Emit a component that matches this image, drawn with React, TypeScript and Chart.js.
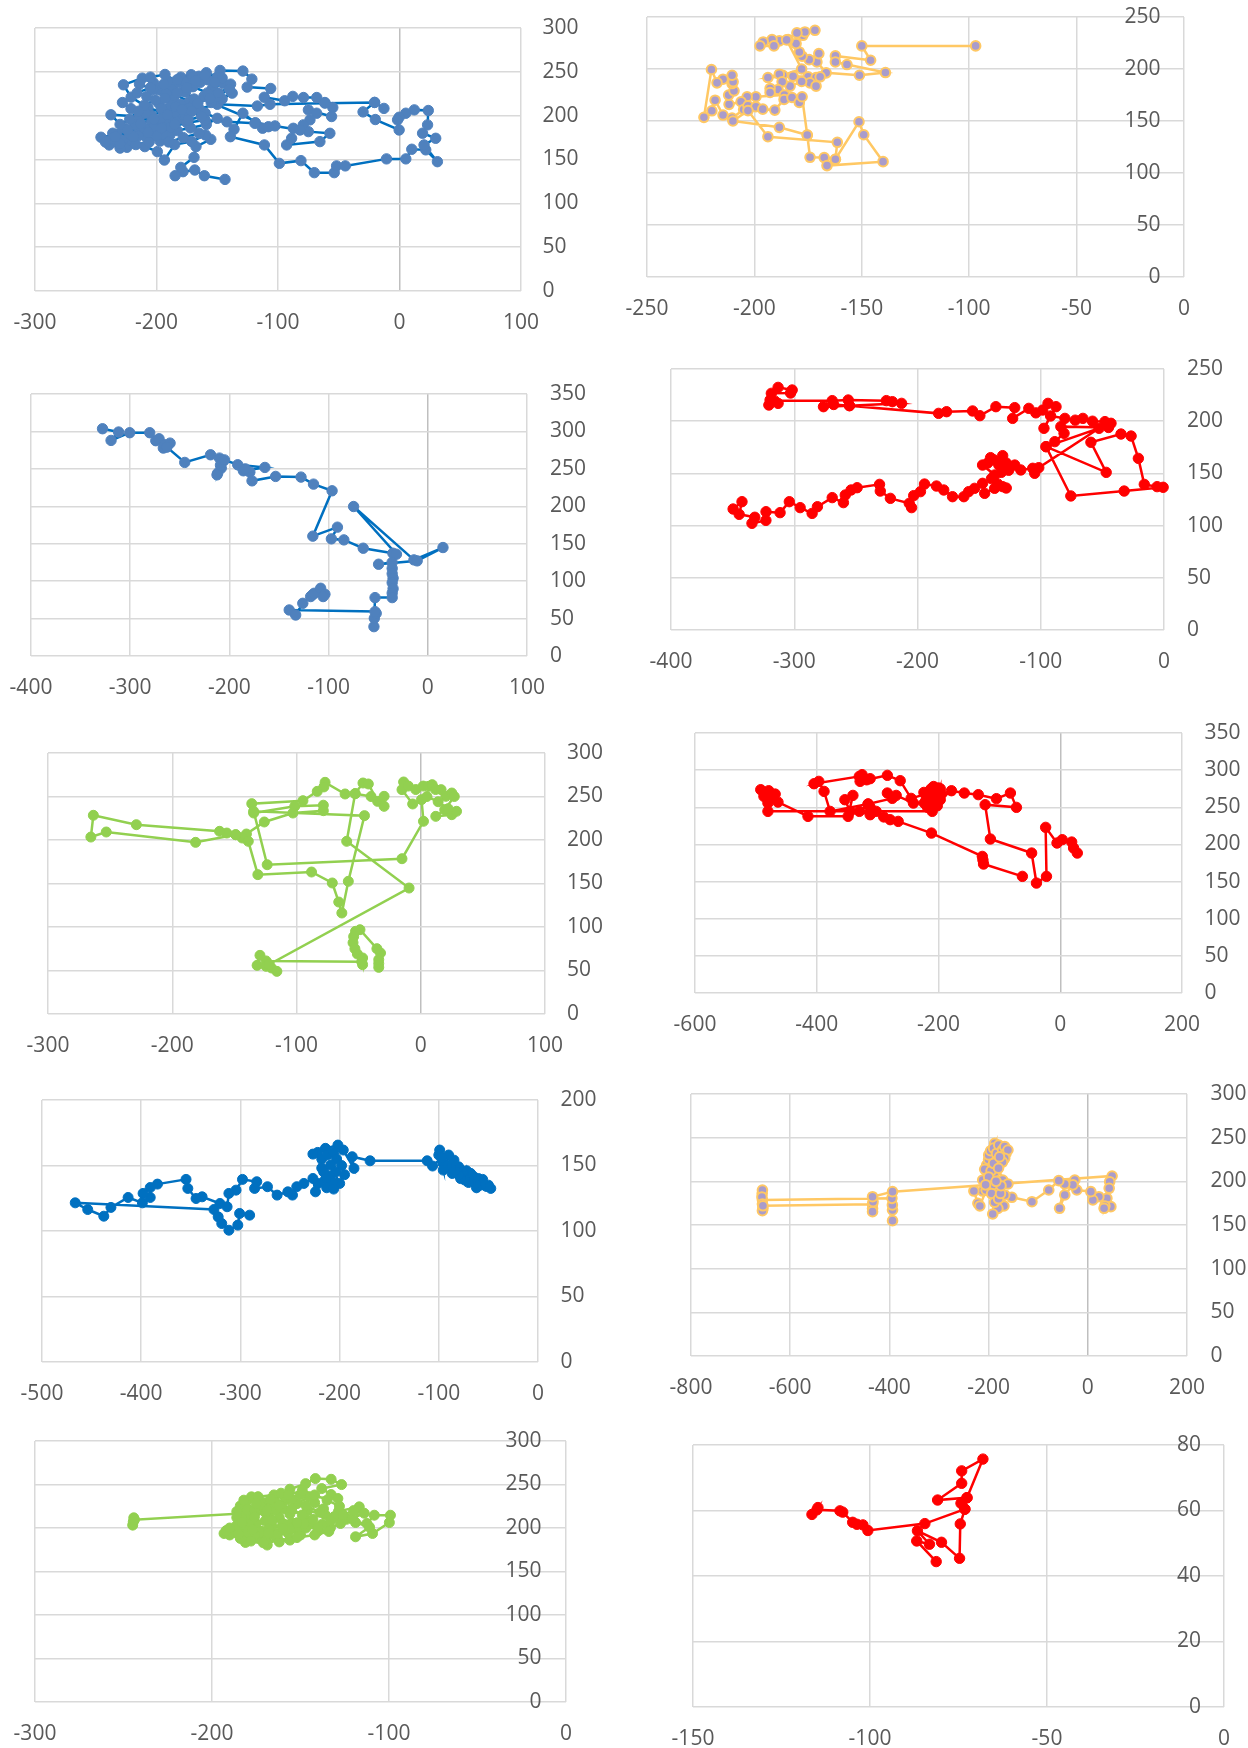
import React, { useEffect, useRef } from 'react';
import { Chart, registerables } from 'chart.js';

Chart.register(...registerables);

type Pt = [number, number];

// ---- data: (x, y) track points ----
const TRACK_1: Pt[] = [
  [-143.6, 127.3], [-160.6, 131.5], [-168.5, 138.0], [-178.2, 136.1], [-184.7, 131.5], [-180.0, 141.0], [-169.1, 152.5],
  [-167.5, 164.7], [-155.3, 173.0], [-159.7, 178.0], [-171.0, 170.5], [-185.0, 167.0], [-193.5, 149.4], [-199.3, 159.0],
  [-209.6, 164.7], [-224.3, 164.0], [-238.9, 166.6], [-245.7, 175.4], [-233.0, 178.5], [-221.0, 172.0], [-209.0, 176.5],
  [-197.0, 171.0], [-189.0, 178.0], [-200.0, 184.5], [-214.0, 182.0], [-227.0, 186.0], [-237.5, 201.0], [-214.0, 199.0],
  [-204.0, 193.0], [-192.0, 189.0], [-182.0, 196.0], [-194.0, 203.0], [-207.0, 209.0], [-220.9, 221.1], [-227.2, 235.2],
  [-211.7, 242.8], [-202.3, 237.1], [-195.0, 228.0], [-187.0, 233.0], [-190.5, 239.0], [-180.0, 244.0], [-171.4, 246.7],
  [-164.0, 238.0], [-176.0, 227.0], [-186.0, 218.0], [-198.0, 214.0], [-208.0, 222.0], [-199.0, 230.0], [-185.0, 224.0],
  [-173.0, 216.0], [-161.0, 222.0], [-154.0, 231.0], [-145.0, 237.0], [-158.0, 241.0], [-147.7, 251.6], [-128.9, 250.9],
  [-121.5, 241.7], [-125.4, 232.6], [-106.0, 231.0], [-111.3, 221.0], [-94.5, 217.0], [-87.8, 222.0], [-79.0, 220.7],
  [-68.1, 220.7], [-61.4, 215.0], [-54.9, 209.3], [-55.9, 199.0], [-75.0, 206.6], [-68.2, 202.8], [-73.7, 195.2],
  [-79.2, 189.5], [-75.0, 181.8], [-57.3, 179.9], [-65.5, 170.4], [-92.9, 166.6], [-88.8, 174.2], [-87.4, 185.6],
  [-81.9, 183.7], [-102.5, 188.3], [-112.7, 185.7], [-118.6, 192.0], [-128.9, 202.8], [-136.2, 184.5], [-139.2, 176.0],
  [-111.2, 166.6], [-98.9, 145.6], [-81.1, 148.7], [-70.1, 135.0], [-53.7, 135.0], [-51.8, 142.7], [-44.6, 142.7],
  [-10.7, 150.7], [5.2, 150.7], [10.1, 161.7], [21.6, 161.0], [31.2, 147.5], [20.2, 166.6], [29.8, 174.2], [19.0, 180.0],
  [23.1, 189.5], [23.7, 205.9], [12.2, 206.6], [5.2, 202.8], [-0.3, 198.2], [-1.6, 195.2], [-0.3, 183.7], [-19.9, 195.6],
  [-30.0, 204.3], [-20.5, 215.1], [-12.8, 208.3], [-20.5, 215.1], [-61.4, 214.3], [-106.6, 213.0], [-117.0, 211.0],
  [-150.0, 213.0], [-165.0, 208.0], [-178.0, 201.0], [-190.0, 196.0], [-203.0, 186.0], [-215.0, 177.0], [-228.0, 172.0],
  [-240.0, 171.0], [-236.0, 180.0], [-222.0, 179.0], [-210.0, 186.0], [-197.0, 196.0], [-185.0, 204.0], [-172.0, 209.0],
  [-160.0, 203.0], [-150.0, 197.0], [-159.0, 190.0], [-172.0, 186.0], [-183.0, 183.0], [-195.0, 179.0], [-206.0, 170.0],
  [-217.0, 167.0], [-230.0, 163.0], [-232.0, 169.0], [-218.0, 190.0], [-204.0, 200.0], [-192.0, 207.0], [-180.0, 213.0],
  [-169.0, 219.0], [-178.0, 228.0], [-192.0, 225.0], [-203.0, 230.0], [-214.0, 236.0], [-205.0, 244.0], [-193.0, 247.0],
  [-182.0, 238.0], [-170.0, 233.0], [-158.0, 226.0], [-146.0, 219.0], [-137.7, 225.7], [-155.0, 215.0], [-107.9, 187.4],
  [-119.0, 191.3], [-142.0, 193.0], [-160.0, 195.0], [-175.0, 192.0], [-188.0, 187.0], [-200.0, 177.0], [-190.0, 170.0],
  [-178.0, 175.0], [-165.0, 180.0], [-176.0, 200.0], [-188.0, 212.0], [-176.0, 238.0], [-165.0, 245.0], [-150.0, 244.0],
  [-139.0, 236.0], [-150.0, 222.0], [-140.0, 230.0], [-146.0, 243.0], [-159.0, 249.0], [-170.0, 244.0], [-183.0, 241.0],
  [-194.0, 236.0], [-205.0, 232.0], [-216.0, 226.0], [-228.0, 215.0], [-221.0, 208.0], [-209.0, 203.0], [-196.0, 208.0],
  [-184.0, 210.0], [-171.0, 205.0], [-163.0, 199.0], [-174.0, 195.0], [-185.0, 190.0], [-196.0, 186.0], [-207.0, 181.0],
  [-219.0, 176.0], [-230.0, 168.0], [-242.0, 170.0], [-234.0, 176.0], [-224.0, 184.0], [-213.0, 191.0], [-202.0, 196.0],
  [-191.0, 201.0], [-179.0, 207.0], [-166.0, 214.0], [-156.0, 220.0], [-149.0, 226.0], [-152.0, 238.0], [-160.0, 246.0],
  [-168.0, 240.0], [-175.0, 232.0], [-183.0, 226.0], [-193.0, 220.0], [-201.0, 218.0], [-210.0, 212.0], [-215.0, 205.0],
  [-222.0, 196.0], [-230.0, 190.0],
];

const TRACK_2: Pt[] = [
  [-97.0, 222.2], [-150.0, 222.2], [-145.9, 208.4], [-162.3, 212.6], [-162.3, 206.8], [-156.9, 204.3], [-139.0, 196.6],
  [-151.1, 194.0], [-166.6, 196.3], [-170.9, 206.8], [-170.0, 214.8], [-174.5, 209.0], [-177.8, 212.3], [-179.1, 216.4],
  [-180.6, 224.4], [-177.4, 232.4], [-176.5, 235.6], [-171.8, 237.2], [-180.2, 234.7], [-184.3, 228.3], [-188.4, 227.0],
  [-191.8, 228.3], [-195.9, 226.0], [-197.4, 222.2], [-190.9, 222.2], [-185.0, 228.0], [-178.0, 200.0], [-186.8, 194.0],
  [-188.4, 195.0], [-193.7, 191.8], [-182.0, 193.0], [-175.0, 192.5], [-171.3, 191.8], [-169.4, 192.5], [-174.1, 186.7],
  [-171.3, 183.5], [-178.0, 188.0], [-183.4, 183.5], [-187.1, 187.7], [-189.0, 180.3], [-192.7, 181.3], [-192.7, 177.4],
  [-186.0, 175.0], [-199.3, 173.3], [-203.4, 173.3], [-206.2, 168.5], [-211.8, 166.0], [-212.0, 174.9], [-209.5, 179.0],
  [-210.4, 186.0], [-209.9, 187.7], [-210.4, 194.0], [-214.6, 190.2], [-217.4, 186.7], [-220.0, 199.5], [-223.5, 153.5],
  [-219.8, 159.8], [-218.3, 170.0], [-214.6, 155.7], [-210.4, 152.8], [-205.0, 161.0], [-203.0, 164.6], [-199.3, 163.7],
  [-196.1, 161.4], [-190.5, 160.5], [-186.2, 170.7], [-182.5, 172.6], [-179.1, 167.8], [-177.8, 173.3], [-175.4, 136.5],
  [-174.1, 115.1], [-167.5, 114.8], [-162.3, 113.2], [-166.2, 107.1], [-140.1, 110.9], [-149.1, 136.8], [-151.3, 149.3],
  [-162.3, 113.2], [-161.4, 129.5], [-193.7, 134.9], [-203.0, 160.0], [-210.0, 150.0], [-188.4, 143.9], [-175.4, 136.5],
];

const TRACK_3: Pt[] = [
  [-327.9, 303.6], [-311.7, 299.2], [-319.3, 288.0], [-300.5, 298.3], [-280.3, 298.3], [-274.2, 287.6], [-270.9, 290.2],
  [-266.6, 277.8], [-265.2, 282.2], [-259.8, 284.4], [-263.0, 279.0], [-245.0, 258.6], [-219.0, 268.8], [-210.0, 264.4],
  [-206.4, 260.0], [-208.2, 251.0], [-211.8, 244.3], [-212.5, 242.0], [-209.0, 255.0], [-205.0, 262.0], [-191.6, 255.5],
  [-164.2, 251.9], [-185.9, 247.4], [-179.4, 245.6], [-184.0, 250.0], [-177.2, 234.0], [-153.4, 239.9], [-127.8, 239.0],
  [-115.2, 229.6], [-96.5, 220.7], [-115.9, 160.1], [-91.1, 172.1], [-97.2, 156.5], [-84.6, 155.1], [-65.1, 144.0],
  [-35.2, 137.3], [-31.6, 136.0], [-74.8, 199.7], [-14.0, 128.4], [15.3, 144.9], [-10.7, 127.1], [-49.6, 122.6],
  [-36.0, 125.0], [-35.9, 117.0], [-35.9, 110.0], [-35.0, 104.0], [-35.9, 98.0], [-35.0, 90.0], [-35.9, 84.0],
  [-35.9, 78.0], [-53.2, 78.0], [-54.3, 39.2], [-53.9, 50.4], [-52.0, 57.0], [-53.2, 59.3], [-139.7, 61.5],
  [-133.2, 54.8], [-126.0, 70.4], [-118.1, 79.4], [-116.0, 82.0], [-114.5, 83.8], [-108.0, 90.5], [-103.7, 82.5],
  [-105.5, 79.4],
];

const TRACK_4: Pt[] = [
  [-319.6, 220.3], [-313.1, 232.4], [-301.7, 229.9], [-303.0, 227.0], [-318.6, 226.7], [-320.6, 215.5], [-313.1, 217.1],
  [-316.0, 219.5], [-269.2, 219.7], [-256.2, 220.3], [-225.3, 219.7], [-220.4, 218.7], [-212.9, 217.1], [-255.2, 214.9],
  [-276.3, 213.9], [-268.0, 216.0], [-255.2, 214.9], [-182.9, 207.5], [-176.4, 209.1], [-155.3, 209.8], [-149.4, 205.3],
  [-136.4, 213.9], [-121.1, 213.0], [-122.8, 202.7], [-109.7, 212.3], [-104.0, 208.0], [-98.4, 210.7], [-94.1, 217.1],
  [-87.6, 213.9], [-97.4, 193.2], [-92.0, 205.0], [-80.4, 202.7], [-72.0, 201.0], [-65.8, 202.7], [-58.0, 200.0],
  [-47.9, 199.6], [-43.0, 198.0], [-45.0, 194.0], [-83.7, 194.8], [-81.1, 188.4], [-88.6, 180.4], [-95.7, 175.6],
  [-46.9, 151.0], [-59.3, 179.8], [-34.9, 187.7], [-26.7, 185.8], [-20.8, 164.4], [-16.0, 139.5], [-5.6, 137.3],
  [-0.7, 136.7], [-32.3, 133.1], [-75.6, 128.4], [-95.7, 175.6], [-52.7, 193.2], [-101.6, 155.5], [-104.9, 150.1],
  [-106.5, 154.9], [-116.2, 153.3], [-121.1, 158.0], [-126.0, 153.0], [-132.0, 151.0], [-128.0, 160.0], [-130.9, 167.0],
  [-134.0, 158.0], [-138.0, 163.0], [-140.7, 165.1], [-143.0, 160.0], [-147.2, 158.0], [-137.4, 148.5], [-140.0, 145.0],
  [-135.0, 140.0], [-128.0, 136.0], [-130.9, 137.3], [-137.4, 135.7], [-145.5, 130.9], [-147.2, 140.5], [-153.7, 135.7],
  [-158.5, 132.5], [-162.4, 127.7], [-171.6, 127.7], [-178.7, 134.1], [-184.6, 137.9], [-194.3, 139.8], [-197.6, 132.5],
  [-203.1, 128.7], [-204.8, 117.2], [-206.7, 121.3], [-222.0, 126.1], [-230.2, 133.1], [-230.8, 139.5], [-249.0, 136.3],
  [-253.9, 134.1], [-258.6, 129.3], [-260.1, 122.0], [-269.2, 126.8], [-281.2, 118.1], [-285.5, 111.7], [-295.2, 117.2],
  [-304.0, 122.9], [-311.5, 112.4], [-322.9, 113.3], [-323.0, 105.0], [-334.3, 102.2], [-332.0, 108.0], [-344.7, 110.8],
  [-342.4, 122.9], [-349.6, 115.9],
];

const TRACK_5: Pt[] = [
  [-33.8, 53.6], [-33.8, 58.0], [-33.8, 62.5], [-32.4, 70.1], [-35.3, 75.1], [-48.9, 96.9], [-52.5, 95.0], [-54.0, 89.0],
  [-54.5, 82.0], [-53.0, 75.0], [-51.0, 69.0], [-46.8, 64.4], [-46.8, 56.7], [-47.5, 60.0], [-124.5, 61.0], [-129.4, 67.4],
  [-131.7, 55.9], [-124.5, 54.8], [-120.1, 52.9], [-115.8, 49.0], [-122.0, 57.0], [-9.4, 144.8], [-59.6, 198.5],
  [-52.8, 253.3], [-46.5, 265.5], [-42.2, 264.4], [-34.7, 244.4], [-29.5, 250.2], [-29.5, 238.7], [-40.0, 250.0],
  [-52.8, 253.3], [-60.9, 252.9], [-77.0, 266.3], [-78.0, 261.0], [-83.3, 255.9], [-94.8, 245.2], [-136.0, 241.8],
  [-134.5, 231.0], [-101.4, 238.7], [-78.4, 240.0], [-78.4, 233.7], [-102.9, 231.0], [-125.9, 220.7], [-140.3, 206.9],
  [-143.7, 202.3], [-148.9, 206.1], [-156.1, 208.0], [-161.9, 210.0], [-228.9, 217.6], [-263.5, 228.4], [-265.5, 203.4],
  [-253.1, 209.2], [-181.2, 197.3], [-148.9, 206.1], [-138.8, 198.5], [-131.1, 160.2], [-87.9, 163.2], [-71.2, 150.6],
  [-66.0, 128.7], [-63.5, 116.1], [-58.3, 152.5], [-45.3, 228.0], [-134.5, 233.0], [-123.6, 171.6], [-15.1, 178.5],
  [2.2, 221.5], [0.6, 246.4], [-6.5, 241.4], [-15.1, 257.9], [-13.8, 266.7], [-10.0, 262.0], [-4.0, 258.0], [2.0, 262.0],
  [6.3, 261.7], [9.2, 263.6], [12.0, 258.0], [16.4, 257.9], [20.2, 250.2], [25.0, 254.0], [27.0, 250.0], [19.3, 234.9],
  [12.1, 227.2], [25.0, 229.1], [28.8, 233.0], [22.0, 236.0], [14.0, 244.0], [5.0, 250.0],
];

const TRACK_6: Pt[] = [
  [-62.2, 157.0], [-126.0, 173.6], [-127.0, 179.0], [-128.0, 183.9], [-211.6, 215.3], [-266.2, 231.0], [-279.4, 233.3],
  [-290.0, 237.0], [-302.4, 244.5], [-312.3, 240.0], [-330.1, 244.5], [-315.6, 254.4], [-312.3, 250.0], [-345.2, 244.5],
  [-353.8, 260.2], [-340.6, 266.0], [-348.5, 237.8], [-414.4, 237.8], [-463.7, 257.0], [-468.3, 267.8], [-478.9, 272.3],
  [-492.0, 273.7], [-486.8, 264.7], [-480.2, 255.7], [-478.0, 262.0], [-480.2, 244.5], [-210.3, 244.5], [-215.0, 255.0],
  [-223.4, 255.7], [-241.2, 255.7], [-269.5, 266.0], [-284.0, 269.2], [-276.0, 262.0], [-315.6, 254.4], [-378.1, 244.5],
  [-388.0, 271.4], [-396.6, 284.9], [-404.5, 281.7], [-330.1, 291.6], [-325.5, 293.9], [-328.8, 284.9], [-312.3, 288.5],
  [-318.0, 287.0], [-284.0, 293.0], [-262.9, 285.8], [-245.0, 262.0], [-220.0, 268.0], [-212.0, 275.0], [-205.0, 270.0],
  [-210.0, 262.0], [-218.0, 250.0], [-213.0, 258.0], [-220.0, 262.0], [-224.0, 270.0], [-215.0, 272.0], [-208.0, 278.0],
  [-200.0, 276.0], [-195.0, 268.0], [-202.0, 252.0], [-205.0, 262.0], [-200.0, 266.0], [-197.1, 275.0], [-197.1, 260.2],
  [-203.0, 257.0], [-178.7, 272.3], [-157.6, 269.2], [-134.6, 267.0], [-104.9, 261.6], [-81.9, 269.2], [-72.0, 249.9],
  [-123.4, 253.5], [-114.8, 207.3], [-47.0, 188.4], [-39.1, 148.0], [-22.6, 157.0], [-24.0, 223.0], [-5.3, 201.9],
  [3.3, 206.4], [18.8, 203.2], [21.9, 195.2], [28.0, 188.4],
];

const TRACK_7: Pt[] = [
  [-47.6, 132.5], [-50.0, 135.0], [-52.0, 134.0], [-55.8, 139.4], [-58.0, 135.0], [-60.0, 140.0], [-62.0, 133.0],
  [-63.0, 136.3], [-64.0, 141.0], [-66.7, 142.7], [-68.0, 144.0], [-70.0, 140.0], [-70.0, 137.0], [-72.0, 146.0],
  [-73.9, 138.9], [-75.0, 144.0], [-76.0, 145.0], [-77.5, 146.5], [-78.0, 140.0], [-80.0, 143.0], [-80.0, 149.0],
  [-84.0, 146.0], [-86.5, 143.9], [-88.0, 148.0], [-84.7, 154.1], [-90.1, 158.0], [-92.0, 150.0], [-96.0, 152.0],
  [-95.5, 146.5], [-100.0, 158.0], [-99.1, 161.8], [-97.0, 156.0], [-106.3, 149.6], [-111.7, 153.6], [-169.3, 153.6],
  [-187.3, 156.7], [-185.5, 147.8], [-196.3, 161.8], [-201.7, 165.6], [-214.3, 163.1], [-222.0, 160.0], [-226.9, 158.7],
  [-218.0, 155.0], [-212.0, 158.0], [-206.0, 160.0], [-203.0, 155.0], [-198.0, 150.0], [-195.0, 143.0], [-204.0, 145.0],
  [-210.0, 142.0], [-218.0, 148.0], [-216.1, 145.2], [-208.9, 150.3], [-199.9, 136.3], [-207.1, 137.6], [-214.3, 139.4],
  [-213.0, 133.0], [-206.0, 132.0], [-221.5, 136.3], [-224.3, 129.9], [-226.9, 140.1], [-236.0, 136.3], [-243.2, 133.8],
  [-247.5, 127.4], [-252.2, 129.9], [-263.0, 127.4], [-272.7, 133.8], [-285.7, 132.5], [-283.5, 137.6], [-297.9, 139.4],
  [-304.4, 131.2], [-311.6, 128.7], [-313.4, 118.5], [-320.6, 121.0], [-338.6, 126.1], [-344.7, 124.8], [-353.0, 132.5],
  [-354.8, 139.4], [-383.6, 135.8], [-390.9, 133.2], [-390.9, 125.6], [-398.1, 128.7], [-398.8, 121.5], [-413.2, 125.6],
  [-430.5, 118.0], [-437.7, 111.3], [-453.9, 116.4], [-466.5, 121.5], [-326.7, 116.4], [-322.4, 110.8], [-318.8, 105.7],
  [-311.6, 100.6], [-302.6, 104.5], [-300.8, 113.4], [-290.7, 112.1],
];

const TRACK_8: Pt[] = [
  [-393.7, 155.0], [-393.7, 167.2], [-394.0, 173.0], [-394.9, 180.5], [-656.0, 178.6], [-656.5, 186.0], [-656.0, 190.0],
  [-657.0, 182.0], [-656.0, 174.0], [-655.0, 169.0], [-656.0, 166.4], [-655.0, 172.0], [-434.0, 173.7], [-434.0, 169.0],
  [-434.0, 165.3], [-433.0, 176.7], [-434.0, 182.4], [-393.7, 188.2], [49.0, 206.1], [44.1, 199.6], [43.1, 192.0],
  [38.5, 180.5], [46.5, 171.0], [34.4, 171.8], [32.8, 169.1], [22.3, 182.4], [10.2, 178.6], [6.1, 188.2], [-22.1, 190.1],
  [-26.2, 201.5], [-30.0, 196.0], [-46.4, 184.4], [-56.9, 169.1], [-46.4, 197.0], [-58.5, 200.8], [-78.7, 190.1],
  [-112.6, 176.7], [-153.0, 181.7], [-167.5, 184.4], [-169.1, 171.8], [-181.3, 169.0], [-191.7, 162.6], [-186.1, 180.5],
  [-183.7, 190.1], [-191.7, 195.8], [-197.4, 205.3], [-203.9, 218.7], [-207.9, 213.7], [-211.9, 201.5], [-211.9, 188.9],
  [-229.7, 188.9], [-221.6, 174.8], [-217.6, 171.8], [-205.0, 190.0], [-194.0, 186.0], [-188.0, 176.0], [-180.0, 180.0],
  [-176.0, 186.0], [-188.0, 210.0], [-195.0, 212.0], [-200.0, 205.0], [-206.0, 196.0], [-200.0, 225.0], [-190.1, 220.6],
  [-199.8, 230.2], [-196.0, 235.0], [-187.7, 243.5], [-190.0, 238.0], [-184.0, 232.0], [-179.6, 241.6], [-172.0, 236.0],
  [-167.5, 239.7], [-165.0, 232.0], [-161.0, 235.9], [-167.5, 226.3], [-172.0, 222.0], [-178.0, 228.0], [-180.0, 215.0],
  [-171.6, 201.5], [-161.0, 197.0], [-175.0, 195.0], [-185.0, 200.0],
];

const TRACK_9: Pt[] = [
  [-244.5, 207.0], [-244.8, 203.3], [-244.2, 211.7], [-243.8, 209.5], [-183.7, 216.7], [-182.0, 210.0], [-176.0, 207.0],
  [-184.0, 225.4], [-177.7, 235.8], [-172.0, 230.0], [-166.7, 226.2], [-170.0, 218.0], [-178.0, 214.0], [-186.0, 219.0],
  [-181.0, 229.0], [-174.0, 236.0], [-165.0, 238.0], [-158.2, 231.9], [-156.0, 244.6], [-147.1, 251.0], [-141.6, 256.8],
  [-132.7, 256.0], [-126.8, 249.9], [-138.0, 245.3], [-132.7, 238.4], [-128.9, 233.9], [-145.0, 236.0], [-152.0, 228.0],
  [-160.0, 222.0], [-168.0, 214.0], [-175.0, 205.0], [-185.0, 200.0], [-193.2, 193.7], [-188.9, 195.6], [-182.0, 190.0],
  [-181.1, 183.4], [-174.0, 188.0], [-168.8, 180.4], [-163.0, 188.0], [-156.0, 186.1], [-150.0, 192.0], [-158.0, 198.0],
  [-166.0, 202.0], [-172.0, 196.0], [-178.0, 200.0], [-170.0, 208.0], [-162.0, 212.0], [-155.0, 206.0], [-148.0, 212.0],
  [-140.1, 196.4], [-133.1, 200.2], [-127.4, 205.2], [-128.5, 219.3], [-116.8, 224.3], [-118.9, 206.3], [-112.5, 205.2],
  [-108.3, 214.7], [-99.2, 214.7], [-99.8, 206.3], [-109.3, 193.7], [-118.9, 189.9], [-111.0, 201.0], [-124.0, 210.0],
  [-136.0, 215.0], [-146.0, 220.0], [-156.0, 216.0], [-164.0, 221.0], [-172.0, 224.0], [-180.0, 221.0], [-186.0, 212.0],
  [-179.0, 204.0], [-168.0, 199.0], [-160.0, 205.0], [-151.0, 201.0], [-144.0, 207.0], [-137.0, 222.0], [-142.0, 229.0],
  [-150.0, 238.0], [-158.0, 235.0], [-164.0, 229.0], [-161.0, 240.0], [-155.0, 233.0], [-147.0, 226.0], [-139.0, 218.0],
  [-131.0, 213.0], [-138.0, 204.0], [-147.0, 200.0], [-157.0, 194.0], [-166.0, 192.0], [-176.0, 192.0], [-184.0, 188.0],
  [-190.0, 192.0], [-180.0, 196.0], [-170.0, 186.0], [-162.0, 184.0], [-152.0, 189.0], [-142.0, 192.0], [-134.0, 196.0],
  [-166.0, 209.0], [-176.0, 221.0], [-182.0, 232.0], [-175.0, 228.0], [-167.0, 233.0], [-157.0, 238.0], [-149.0, 243.0],
  [-142.0, 238.0], [-135.0, 232.0], [-128.0, 225.0], [-121.0, 211.0], [-114.0, 217.0], [-120.0, 220.0], [-126.0, 215.0],
  [-133.0, 208.0], [-140.0, 201.0], [-148.0, 205.0], [-156.0, 199.0], [-163.0, 193.0], [-171.0, 183.0], [-178.0, 185.0],
  [-185.0, 193.0], [-192.0, 197.0], [-186.0, 203.0], [-177.0, 198.0], [-168.0, 194.0], [-160.0, 200.0], [-152.0, 206.0],
  [-143.0, 210.0], [-149.0, 215.0], [-155.0, 222.0], [-162.0, 226.0], [-169.0, 220.0], [-176.0, 213.0], [-183.0, 206.0],
  [-190.0, 200.0],
];

const TRACK_10: Pt[] = [
  [-116.4, 58.8], [-114.7, 60.9], [-115.0, 60.2], [-108.5, 59.9], [-107.7, 59.5], [-104.9, 56.4], [-103.7, 55.8],
  [-102.0, 55.6], [-100.6, 53.9], [-84.5, 56.0], [-73.2, 60.4], [-74.3, 62.2], [-72.6, 63.9], [-68.1, 75.7],
  [-74.1, 72.1], [-74.1, 68.3], [-80.9, 63.2], [-72.6, 63.9], [-73.2, 60.4], [-74.5, 55.9], [-74.7, 45.4],
  [-79.8, 50.3], [-86.6, 53.8], [-83.2, 49.7], [-86.8, 50.7], [-81.3, 44.4],
];

// axis ranges [min, max, step]
const X_RANGES: [number, number, number][] = [
  [-300, 100, 100], [-250, 0, 50], [-400, 100, 100], [-400, 0, 100], [-300, 100, 100],
  [-600, 200, 200], [-500, 0, 100], [-800, 200, 200], [-300, 0, 100], [-150, 0, 50],
];
const Y_RANGES: [number, number, number][] = [
  [0, 300, 50], [0, 250, 50], [0, 350, 50], [0, 250, 50], [0, 300, 50],
  [0, 350, 50], [0, 200, 50], [0, 300, 50], [0, 300, 50], [0, 80, 20],
];
const TRACKS: Pt[][] = [TRACK_1, TRACK_2, TRACK_3, TRACK_4, TRACK_5, TRACK_6, TRACK_7, TRACK_8, TRACK_9, TRACK_10];

// ---- layout & style ----
const FONT_FAMILY = '"Open Sans", "Liberation Sans", sans-serif';
const FONT_SIZE = 21;
const TEXT_COLOR = '#595959';
const GRID_COLOR = '#D9D9D9';
const ZERO_COLOR = '#BFBFBF';

type Style = { line: string; fill: string; edge: string; edgeW: number; r: number };
const BLUE_A: Style = { line: '#0070C0', fill: '#4F81BD', edge: '#4F81BD', edgeW: 1, r: 5.2 };
const BLUE_B: Style = { line: '#0070C0', fill: '#0070C0', edge: '#0070C0', edgeW: 1, r: 5.0 };
const ORANGE: Style = { line: '#FFC864', fill: '#A99CCB', edge: '#FFC864', edgeW: 2, r: 4.8 };
const RED: Style = { line: '#FF0000', fill: '#FF0000', edge: '#FF0000', edgeW: 1, r: 5.2 };
const GREEN: Style = { line: '#92D050', fill: '#92D050', edge: '#92D050', edgeW: 1, r: 5.0 };

// plot rectangles [left, top, right, bottom] in page px; y-label placement and gap
const BOXES: [number, number, number, number][] = [
  [35, 28, 521, 291], [647, 17, 1184, 277], [31, 394, 527, 656], [671, 369, 1164, 630], [48, 753, 545, 1014],
  [695, 733, 1182, 993], [42, 1100, 538, 1362], [691, 1094, 1187, 1356], [35, 1441, 566, 1702], [693, 1445, 1224, 1707],
];
const STYLES: Style[] = [BLUE_A, ORANGE, BLUE_A, RED, GREEN, RED, BLUE_B, ORANGE, GREEN, RED];
const Y_INSIDE = [false, true, false, false, false, false, false, false, true, true];
const Y_GAP = [21.5, 23.5, 23, 23, 22, 22.5, 22.5, 23.5, 24.5, 23];

const PAD_L = 50;
const PAD_T = 25;
const AX_W = 85;
const AX_H = 50;
const EXTRA_R = 10;
const EXTRA_B = 5;

function Panel({ idx }: { idx: number }) {
  const ref = useRef<HTMLCanvasElement>(null);
  const [l, t, r, b] = BOXES[idx];
  const w = r - l + PAD_L + AX_W + EXTRA_R;
  const h = b - t + PAD_T + AX_H + EXTRA_B;

  useEffect(() => {
    const canvas = ref.current;
    if (!canvas) return;
    const st = STYLES[idx];
    const [xMin, xMax, xStep] = X_RANGES[idx];
    const [yMin, yMax, yStep] = Y_RANGES[idx];
    const font = { family: FONT_FAMILY, size: FONT_SIZE };
    const inside = Y_INSIDE[idx];

    const chart = new Chart(canvas, {
      type: 'scatter',
      data: {
        datasets: [
          {
            data: TRACKS[idx].map(([x, y]) => ({ x, y })),
            showLine: true,
            borderColor: st.line,
            borderWidth: 2.5,
            backgroundColor: st.fill,
            pointBackgroundColor: st.fill,
            pointBorderColor: st.edge,
            pointBorderWidth: st.edgeW,
            pointRadius: st.r,
            pointHoverRadius: st.r,
            tension: 0,
            clip: false as any,
          } as any,
        ],
      },
      options: {
        animation: false,
        responsive: false,
        maintainAspectRatio: false,
        events: [],
        layout: { padding: { left: PAD_L, top: PAD_T, right: EXTRA_R, bottom: EXTRA_B } },
        plugins: { legend: { display: false }, tooltip: { enabled: false }, title: { display: false } },
        scales: {
          x: {
            type: 'linear',
            position: 'bottom',
            min: xMin,
            max: xMax,
            border: { display: false },
            grid: {
              drawTicks: false,
              lineWidth: 1.5,
              color: (c: any) =>
                c.tick && c.tick.value === 0 && xMin < 0 && xMax > 0 ? ZERO_COLOR : GRID_COLOR,
            },
            ticks: {
              stepSize: xStep,
              autoSkip: false,
              maxRotation: 0,
              minRotation: 0,
              padding: 19,
              color: TEXT_COLOR,
              font,
              callback: (v: any) => String(v),
            },
            afterFit: (s: any) => {
              s.height = AX_H;
              s.paddingLeft = 0;
              s.paddingRight = 0;
            },
          } as any,
          y: {
            type: 'linear',
            position: 'right',
            min: yMin,
            max: yMax,
            border: { display: false },
            grid: { drawTicks: false, lineWidth: 1.5, color: GRID_COLOR },
            ticks: {
              stepSize: yStep,
              autoSkip: false,
              mirror: inside,
              padding: inside ? -Y_GAP[idx] : Y_GAP[idx],
              crossAlign: 'near',
              color: TEXT_COLOR,
              font,
              callback: (v: any) => String(v),
            },
            afterFit: (s: any) => {
              s.width = AX_W;
              s.paddingTop = 0;
              s.paddingBottom = 0;
            },
          } as any,
        },
      },
    });
    return () => chart.destroy();
  }, [idx]);

  return (
    <canvas
      ref={ref}
      width={w}
      height={h}
      style={{ position: 'absolute', left: l - PAD_L, top: t - PAD_T, width: w, height: h }}
    />
  );
}

export default function App() {
  return (
    <div
      style={{
        position: 'absolute',
        left: 0,
        top: 0,
        width: 1248,
        height: 1748,
        overflow: 'hidden',
        background: '#ffffff',
      }}
    >
      {TRACKS.map((_, i) => (
        <Panel key={i} idx={i} />
      ))}
    </div>
  );
}
